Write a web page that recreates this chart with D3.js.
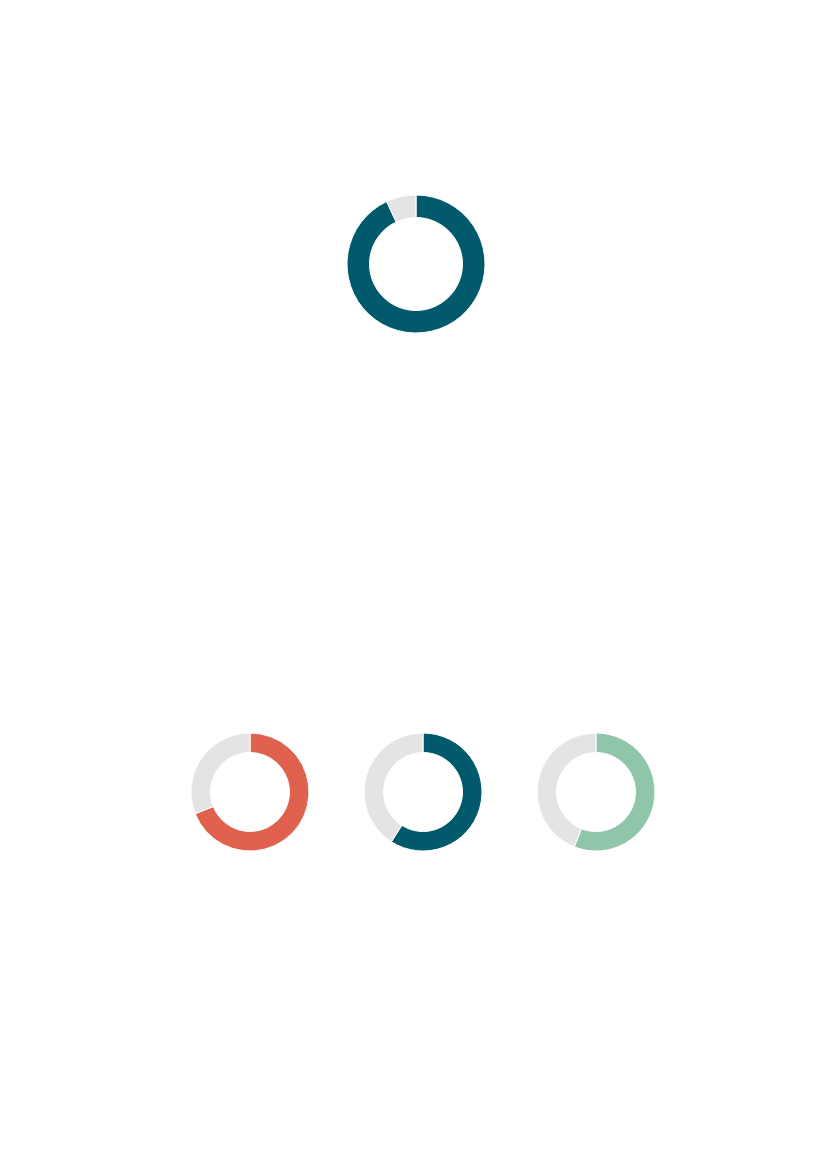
<!DOCTYPE html>
<html>
<head>
<meta charset="utf-8">
<script src="https://cdn.jsdelivr.net/npm/d3@7"></script>
<style>
    body { margin: 0; background: #fff; }
</style>
</head>
<body>
<div id="chart"></div>
<script>
// main donut
const mainLabel = "total"
const mainValue = 93

// the three smaller donuts
const groups = ["a", "b", "c"]
const groupValues = [69, 59, 56]
const groupColors = ["#e0614d", "#005a6b", "#8fc6a9"]

const mainColor = "#005a6b"
const restColor = "#e4e4e4"

const width = 827, height = 1169

const svg = d3.select("#chart")
    .append("svg")
    .attr("width", width)
    .attr("height", height)

const pie = d3.pie()
    .sort(null)
    .value(d => d)

function donut(g, value, color, rOuter, rInner) {
    const arc = d3.arc()
        .innerRadius(rInner)
        .outerRadius(rOuter)

    g.selectAll("path")
        .data(pie([value, 100 - value]))
        .join("path")
        .attr("d", arc)
        .attr("fill", (d, i) => i === 0 ? color : restColor)
        .attr("stroke", "#fff")
        .attr("stroke-width", 1)
}

const big = svg.append("g")
    .attr("transform", "translate(416,264)")
donut(big, mainValue, mainColor, 69, 46.5)

const x = d3.scalePoint()
    .domain(groups)
    .range([250, 596])

groups.forEach((k, i) => {
    const g = svg.append("g")
        .attr("transform", `translate(${x(k)},792)`)
    donut(g, groupValues[i], groupColors[i], 59, 39.5)
})
</script>
</body>
</html>
